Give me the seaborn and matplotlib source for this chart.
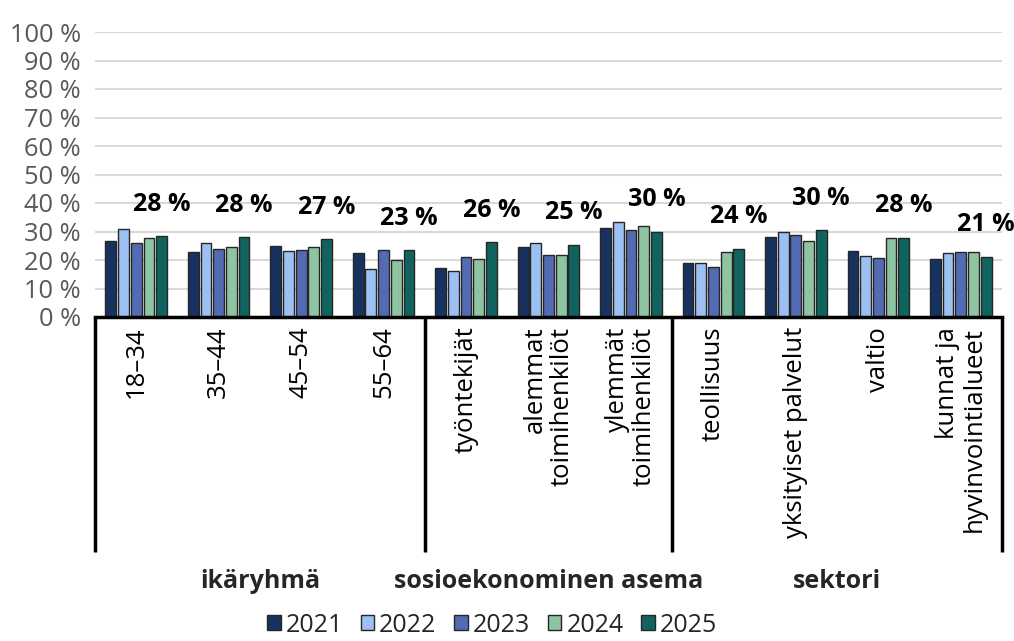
import matplotlib
matplotlib.use("Agg")
import matplotlib.pyplot as plt
import matplotlib.transforms as mtransforms
import seaborn as sns
import pandas as pd

categories = ["18–34", "35–44", "45–54", "55–64",
              "työntekijät", "alemmat\ntoimihenkilöt", "ylemmät\ntoimihenkilöt",
              "teollisuus", "yksityiset palvelut", "valtio", "kunnat ja\nhyvinvointialueet"]
years = ["2021", "2022", "2023", "2024", "2025"]
v2021 = [26.5, 22.9, 24.8, 22.4, 17.3, 24.5, 31.2, 18.9, 28.1, 23.2, 20.2]
v2022 = [30.8, 26.1, 23.2, 16.7, 16.0, 25.8, 33.5, 19.1, 30.0, 21.3, 22.6]
v2023 = [25.9, 23.9, 23.4, 23.4, 21.2, 21.8, 30.5, 17.5, 28.7, 20.7, 22.7]
v2024 = [27.8, 24.6, 24.7, 19.9, 20.5, 21.9, 32.1, 22.8, 26.5, 27.6, 22.8]
v2025 = [28.4, 28.0, 27.2, 23.4, 26.2, 25.3, 29.9, 23.9, 30.4, 27.8, 21.1]
groups = ["ikäryhmä", "sosioekonominen asema", "sektori"]
group_sizes = [4, 3, 4]
colors = ["#0B2F6B", "#8EBEFF", "#4263C2", "#85CDA0", "#02716C"]

series = [v2021, v2022, v2023, v2024, v2025]
rows = []
for y, vals in zip(years, series):
    for c, v in zip(categories, vals):
        rows.append({"cat": c, "year": y, "val": v})
df = pd.DataFrame(rows)

sns.set_theme(style="white")
plt.rcParams["font.family"] = ["Open Sans", "DejaVu Sans"]

fig = plt.figure(figsize=(10.14, 6.41), dpi=100)
ax = fig.add_axes([95/1014, 1-317/641, 907/1014, 285/641])

sns.barplot(data=df, x="cat", y="val", hue="year", order=categories, hue_order=years,
            palette=colors, width=0.77, gap=0.15, edgecolor="#262626", linewidth=1.0,
            ax=ax, zorder=3)

ax.set_xlim(-0.5, len(categories) - 0.5)
ax.set_ylim(0, 100)
ax.set_yticks(range(0, 101, 10))
ax.set_yticklabels([f"{t} %" for t in range(0, 101, 10)], color="#595959", fontsize=18.3)
ax.yaxis.grid(True, color="#D9D9D9", linewidth=1.5, zorder=0)
ax.set_axisbelow(True)
ax.set_xlabel("")
ax.set_ylabel("")
ax.tick_params(axis="both", length=0)
ax.tick_params(axis="y", pad=10)
ax.tick_params(axis="x", pad=7)
for lab in ax.get_xticklabels():
    lab.set_rotation(90)
    lab.set_fontsize(18.5)
    lab.set_color("black")
    lab.set_multialignment("right")
    lab.set_verticalalignment("top")
    lab.set_horizontalalignment("center")
    lab.set_linespacing(1.1)

for s in ["top", "right", "left"]:
    ax.spines[s].set_visible(False)
ax.spines["bottom"].set_color("black")
ax.spines["bottom"].set_linewidth(2.5)
ax.spines["bottom"].set_zorder(5)

# data labels for 2025
last = ax.containers[-1]
ax.bar_label(last, labels=[f"{round(v)} %" for v in v2025], padding=14,
             fontsize=18, fontweight="bold", color="black")

# group boxes below axis
trans = mtransforms.blended_transform_factory(ax.transData, ax.transAxes)
bottom = (317 - 552) / 285
bounds = [-0.5]
for n in group_sizes:
    bounds.append(bounds[-1] + n)
for b in bounds:
    ax.plot([b, b], [0, bottom], transform=trans, color="black", lw=2.5,
            clip_on=False, solid_capstyle="butt")
ylab = (317 - 582) / 285
for g, lo, hi in zip(groups, bounds[:-1], bounds[1:]):
    ax.text((lo + hi) / 2, ylab, g, transform=trans, ha="center", va="center",
            fontsize=18, fontweight="bold")

handles, labels = ax.get_legend_handles_labels()
ax.get_legend().remove()
fig.legend(handles, labels, loc="center", bbox_to_anchor=(492/1014, 1-625/641), ncol=5,
           frameon=False, fontsize=18, handlelength=0.55, handleheight=0.55,
           handletextpad=0.2, columnspacing=0.7, borderpad=0.1)

fig.savefig("out.png", dpi=100)
